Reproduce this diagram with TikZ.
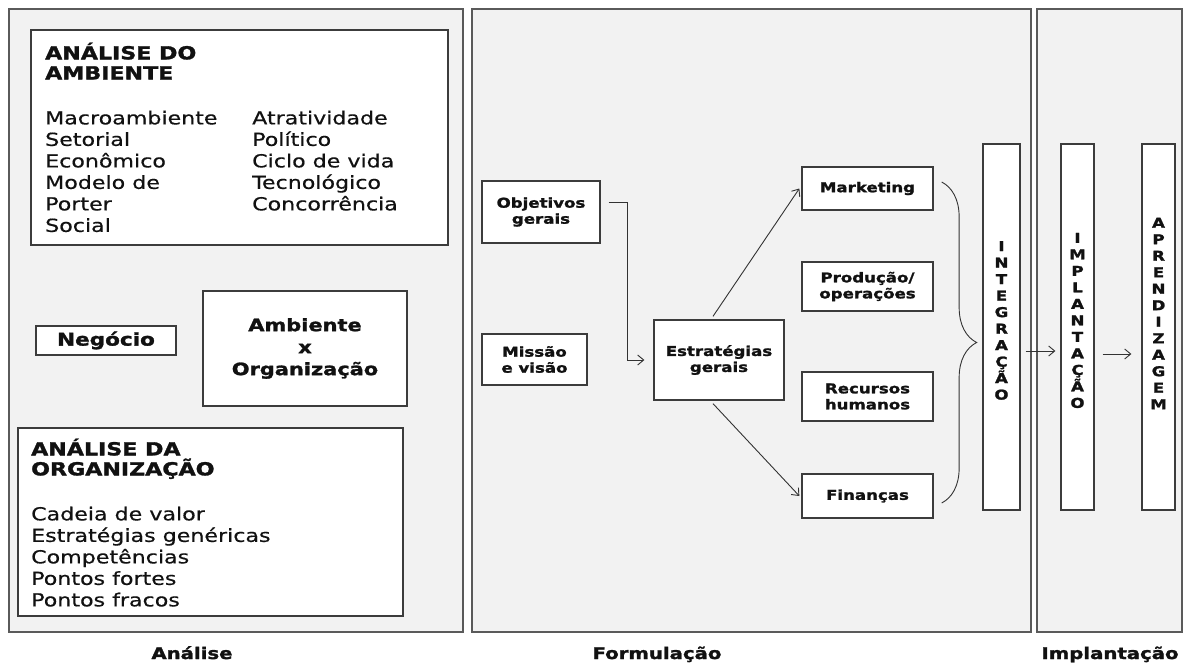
\documentclass[tikz,border=0pt]{standalone}
\usepackage{fontspec}
\setmainfont{DejaVu Sans}[FakeStretch=1.23, UprightFeatures={FakeBold=0.5}, BoldFeatures={FakeBold=1.6}]
\usetikzlibrary{arrows.meta,decorations.pathreplacing}
\definecolor{panelgray}{HTML}{F2F2F2}
\definecolor{framegray}{HTML}{5A5A5A}
\definecolor{boxline}{HTML}{3C3C3C}
\definecolor{inkdark}{HTML}{111111}

\begin{document}
\begin{tikzpicture}[x=1pt, y=-1pt,
	panel/.style={fill=panelgray, draw=framegray, line width=1.8pt},
	box/.style={draw=boxline, fill=white, line width=1.3pt, inner sep=0pt, text=inkdark},
	smallbox/.style={box, align=center, font=\bfseries\fontsize{13.5}{16}\selectfont},
	headtext/.style={anchor=north west, inner sep=0pt, align=left, text=inkdark, font=\bfseries\fontsize{18}{20}\selectfont},
	listtext/.style={anchor=north west, inner sep=0pt, align=left, text=inkdark, font=\fontsize{18}{21.5}\selectfont},
	vtext/.style={inner sep=0pt, align=center, text=inkdark, font=\bfseries\fontsize{13.5}{16.5}\selectfont},
	phase/.style={anchor=base, inner sep=0pt, text=inkdark, font=\bfseries\fontsize{16}{18}\selectfont},
	arr/.style={draw=black!80, line width=0.9pt, -{Straight Barb[length=6pt,width=10pt]}}]
	\useasboundingbox[fill=white] (0,0) rectangle (1186,666);
	% panels
	\draw[panel] (9,9) rectangle (463,632);
	\draw[panel] (472,9) rectangle (1031,632);
	\draw[panel] (1037,9) rectangle (1182,632);
	\node[phase] (lblana)  at (192,659)  {Análise};
	\node[phase] (lblform) at (657,659)  {Formulação};
	\node[phase] (lblimpl) at (1110,659) {Implantação};
	% analise
	\node[box, minimum width=417pt, minimum height=215pt] (amb) at (239.5,137.5) {};
	\node[headtext] (ambhead)  at (45,42.5)   {ANÁLISE DO\\AMBIENTE};
	\node[listtext] (amblistA) at (45,110.5)  {Macroambiente\\Setorial\\Econômico\\Modelo de\\Porter\\Social};
	\node[listtext] (amblistB) at (252,110.5) {Atratividade\\Político\\Ciclo de vida\\Tecnológico\\Concorrência};
	\node[box, minimum width=140pt, minimum height=29pt, font=\bfseries\fontsize{17.5}{20}\selectfont] (neg) at (106,340.5) {Negócio};
	\node[box, minimum width=204pt, minimum height=115pt, align=center, font=\bfseries\fontsize{17}{22}\selectfont] (axo) at (305,348.5) {Ambiente\\x\\Organização};
	\node[box, minimum width=385pt, minimum height=188pt] (org) at (210.5,522) {};
	\node[headtext] (orghead) at (31,438.5) {ANÁLISE DA\\ORGANIZAÇÃO};
	\node[listtext] (orglist) at (31,506.5) {Cadeia de valor\\Estratégias genéricas\\Competências\\Pontos fortes\\Pontos fracos};
	% formulacao
	\node[smallbox, minimum width=118pt, minimum height=62pt] (obj)  at (541,212)     {Objetivos\\gerais};
	\node[smallbox, minimum width=105pt, minimum height=51pt] (mis)  at (534.5,359.5) {Missão\\e visão};
	\node[smallbox, minimum width=130pt, minimum height=80pt] (est)  at (719,360)     {Estratégias\\gerais};
	\node[smallbox, minimum width=131pt, minimum height=43pt] (mkt)  at (867.5,188.5) {Marketing};
	\node[smallbox, minimum width=131pt, minimum height=49pt] (prod) at (867.5,286.5) {Produção/\\operações};
	\node[smallbox, minimum width=131pt, minimum height=49pt] (rh)   at (867.5,396.5) {Recursos\\humanos};
	\node[smallbox, minimum width=131pt, minimum height=44pt] (fin)  at (867.5,496)   {Finanças};
	\node[box, minimum width=37pt, minimum height=366pt] (integ) at (1001.5,327) {};
	\node[vtext] (integtxt) at ([yshift=6.5pt]integ.center) {I\\N\\T\\E\\G\\R\\A\\Ç\\Ã\\O};
	% implantacao
	\node[box, minimum width=33pt, minimum height=366pt] (impl) at (1077.5,327) {};
	\node[vtext] (impltxt) at ([yshift=6.5pt]impl.center) {I\\M\\P\\L\\A\\N\\T\\A\\Ç\\Ã\\O};
	\node[box, minimum width=33pt, minimum height=366pt] (apr) at (1158.5,327) {};
	\node[vtext] (aprtxt) at ([yshift=13.5pt]apr.center) {A\\P\\R\\E\\N\\D\\I\\Z\\A\\G\\E\\M};
	% arrows
	\draw[arr] ([xshift=8pt,yshift=10pt]obj.east) -- ++(19,0) |- ([xshift=-9pt]est.west);
	\draw[arr] ([xshift=-6pt,yshift=3pt]est.north) -- ([xshift=-2pt]mkt.west);
	\draw[arr] ([xshift=-6pt,yshift=-3pt]est.south) -- ([xshift=-2pt]fin.west);
	\draw[draw=black!80, line width=0.9pt, decorate, decoration={brace, amplitude=35pt}]
		([xshift=8pt,yshift=6.5pt]mkt.east) -- ([xshift=8pt,yshift=-7pt]fin.east);
	\draw[arr] ([xshift=5pt,yshift=-24pt]integ.east) -- ([xshift=-5pt,yshift=-24pt]impl.west);
	\draw[arr] ([xshift=8pt,yshift=-27pt]impl.east) -- ([xshift=-10pt,yshift=-27pt]apr.west);
\end{tikzpicture}
\end{document}
